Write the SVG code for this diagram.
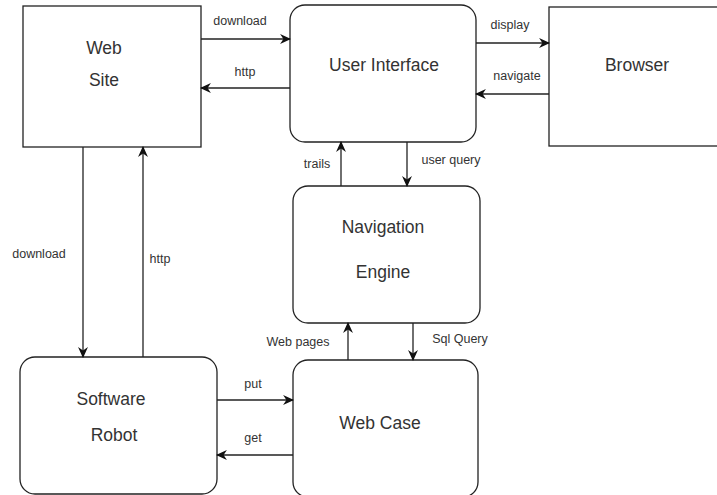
<svg xmlns="http://www.w3.org/2000/svg" width="717" height="495" viewBox="0 0 717 495">
<style>
.box{fill:#fff;stroke:#222;stroke-width:1.3}
.t{font-family:"Liberation Sans",Arial,sans-serif;font-size:17.5px;fill:#333;text-anchor:middle}
.l{font-family:"Liberation Sans",Arial,sans-serif;font-size:12.5px;fill:#333;text-anchor:middle}
.c{stroke:#222;stroke-width:1.3;fill:none;marker-end:url(#a)}
</style>
<defs>
<marker id="a" viewBox="0 0 10 10" refX="9" refY="5" markerWidth="11" markerHeight="11" markerUnits="userSpaceOnUse" orient="auto">
<path d="M0,0.5 L10,5 L0,9.5 L3,5 Z" fill="#111"/>
</marker>
</defs>
<rect width="717" height="495" fill="#fff"/>
<g id="web-site"><rect class="box" x="23" y="6" width="178" height="141"/><text class="t" x="104" y="54">Web</text><text class="t" x="104" y="86">Site</text></g>
<g id="user-interface"><rect class="box" x="290" y="5" width="186" height="137" rx="15"/><text class="t" x="384" y="71">User Interface</text></g>
<g id="browser"><rect class="box" x="549" y="7" width="175" height="139"/><text class="t" x="637" y="71">Browser</text></g>
<g id="navigation-engine"><rect class="box" x="293" y="186" width="187" height="137" rx="15"/><text class="t" x="383" y="233">Navigation</text><text class="t" x="383" y="278">Engine</text></g>
<g id="software-robot"><rect class="box" x="20" y="357" width="197" height="137" rx="15"/><text class="t" x="111" y="405">Software</text><text class="t" x="114" y="441">Robot</text></g>
<g id="web-case"><rect class="box" x="293" y="360" width="185" height="137" rx="15"/><text class="t" x="380" y="429">Web Case</text></g>
<g id="connectors">
<path class="c" d="M201,39 H290"/><text class="l" x="240" y="25">download</text>
<path class="c" d="M290,88 H201"/><text class="l" x="245" y="76">http</text>
<path class="c" d="M476,43 H549"/><text class="l" x="510" y="29">display</text>
<path class="c" d="M549,94 H476"/><text class="l" x="517" y="80">navigate</text>
<path class="c" d="M341,186 V142"/><text class="l" x="317" y="168">trails</text>
<path class="c" d="M407,142 V186"/><text class="l" x="451" y="164">user query</text>
<path class="c" d="M348,360 V323"/><text class="l" x="298" y="346">Web pages</text>
<path class="c" d="M413,323 V360"/><text class="l" x="460" y="343">Sql Query</text>
<path class="c" d="M83,147 V357"/><text class="l" x="39" y="258">download</text>
<path class="c" d="M143,357 V147"/><text class="l" x="160" y="263">http</text>
<path class="c" d="M217,400 H293"/><text class="l" x="253" y="388">put</text>
<path class="c" d="M293,455 H217"/><text class="l" x="253" y="442">get</text>
</g>
</svg>
